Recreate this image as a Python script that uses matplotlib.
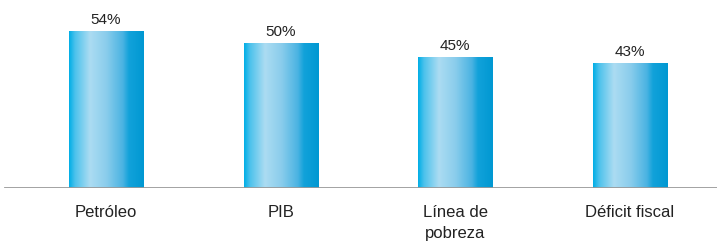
import matplotlib
matplotlib.use("Agg")
import matplotlib.pyplot as plt
import numpy as np
from matplotlib.colors import LinearSegmentedColormap

categories = ["Petróleo", "PIB", "Línea de\npobreza", "Déficit fiscal"]
values = [54, 50, 45, 43]
labels = ["54%", "50%", "45%", "43%"]

fig = plt.figure(figsize=(7.17, 2.42), dpi=100)
ax = fig.add_axes([0.0, 1 - 188 / 242, 1.0, 188 / 242])
ax.set_xlim(-0.607, 3.498)
ax.set_ylim(0, 64.8)

cmap = LinearSegmentedColormap.from_list(
    "bar",
    [(0.0, "#00AEE6"), (0.08, "#4CC2EC"), (0.28, "#ACDCF2"), (0.5, "#8ACDEC"),
     (0.72, "#4AB3E2"), (0.8, "#12A2DA"), (1.0, "#0098D2")],
)
grad = np.linspace(0, 1, 256).reshape(1, -1)
width = 0.424
x = np.arange(len(categories))
bars = ax.bar(x, values, width=width, color="none", edgecolor="none")
for b in bars:
    x0, y0 = b.get_x(), b.get_y()
    w, h = b.get_width(), b.get_height()
    im = ax.imshow(grad, cmap=cmap, aspect="auto", extent=(x0, x0 + w, y0, y0 + h),
                   interpolation="bilinear", zorder=2)
    im.set_clip_path(b)

for xi, v, lab in zip(x, values, labels):
    ax.text(xi, v + 2.4, lab, ha="center", va="baseline", fontsize=11,
            color="#222222", family="Liberation Sans")

ax.axhline(0, xmin=5 / 717, xmax=1, color="#999999", lw=2, zorder=3)
for s in ax.spines.values():
    s.set_visible(False)
ax.set_xticks([])
ax.set_yticks([])

for xi, c in zip(x, categories):
    ax.annotate(c, xy=(xi, 0), xycoords="data", xytext=(0, -12.5), textcoords="offset points",
                ha="center", va="top", fontsize=12, color="#222222",
                family="Liberation Sans", linespacing=1.45, annotation_clip=False)

fig.savefig("out.png", dpi=100)
